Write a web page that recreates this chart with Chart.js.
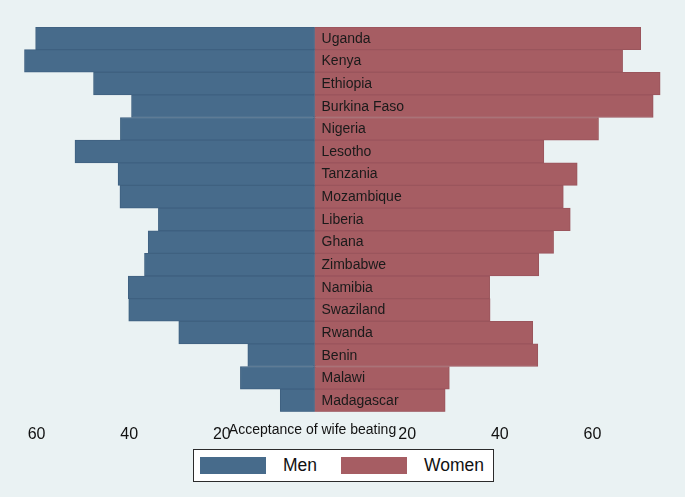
<!DOCTYPE html>
<html>
<head>
<meta charset="utf-8">
<script src="https://cdn.jsdelivr.net/npm/chart.js@4"></script>
<style>
  html, body { margin: 0; padding: 0; background: #EAF2F3; }
  #wrap { position: relative; width: 685px; height: 497px; background: #EAF2F3; }
  #c { position: absolute; left: 0; top: 0; }
  #legend { position: absolute; left: 193px; top: 449px; width: 299px; height: 31px; border: 1px solid #2b2b2b; background: #ffffff; box-sizing: content-box; font-family: "Liberation Sans", Arial, sans-serif; font-size: 17.5px; color: #111; }
  .sw { position: absolute; top: 7px; width: 66px; height: 17px; }
  .lt { position: absolute; top: 5px; line-height: 20px; }
</style>
</head>
<body>
<div id="wrap">
  <canvas id="c" width="685" height="497"></canvas>
  <div id="legend">
    <div class="sw" style="left:6px;background:#476b8b;"></div>
    <div class="lt" style="left:89px;">Men</div>
    <div class="sw" style="left:147px;background:#a65d63;"></div>
    <div class="lt" style="left:230px;">Women</div>
  </div>
</div>
<script>
const countries = ["Uganda","Kenya","Ethiopia","Burkina Faso","Nigeria","Lesotho","Tanzania","Mozambique","Liberia","Ghana","Zimbabwe","Namibia","Swaziland","Rwanda","Benin","Malawi","Madagascar"];
const menValues = [60.2,62.6,47.7,39.5,41.9,51.7,42.4,42.0,33.7,35.9,36.7,40.2,40.1,29.3,14.4,16.0,7.4];
const womenValues = [70.4,66.5,74.6,73.1,61.3,49.5,56.7,53.7,55.2,51.6,48.4,37.8,37.9,47.1,48.2,29.1,28.2];
const tickValues = [-60,-40,-20,20,40,60];
const axisTitle = "Acceptance of wife beating";
const seriesNames = ["Men","Women"];

const labelPlugin = {
  id: 'labelPlugin',
  afterDatasetsDraw(chart) {
    const ctx = chart.ctx;
    const xs = chart.scales.x, ys = chart.scales.y;
    const x0 = xs.getPixelForValue(0);
    ctx.save();
    ctx.fillStyle = '#1a1a1a';
    ctx.font = '14px "Liberation Sans", Arial, sans-serif';
    ctx.textAlign = 'left';
    ctx.textBaseline = 'middle';
    countries.forEach((c, i) => {
      ctx.fillText(c, x0 + 7, ys.getPixelForValue(i) + 0.5);
    });
    ctx.font = '14px "Liberation Sans", Arial, sans-serif';
    ctx.textAlign = 'center';
    ctx.fillStyle = '#111';
    ctx.fillText(axisTitle, 312.5, 430);
    ctx.restore();
  }
};

new Chart(document.getElementById('c'), {
  type: 'bar',
  data: {
    labels: countries,
    datasets: [
      { label: seriesNames[0], data: menValues.map(v => -v), backgroundColor: '#476b8b', borderColor: '#3f6180', borderWidth: 1, borderSkipped: false, barPercentage: 1, categoryPercentage: 1 },
      { label: seriesNames[1], data: womenValues, backgroundColor: '#a65d63', borderColor: '#9a555c', borderWidth: 1, borderSkipped: false, barPercentage: 1, categoryPercentage: 1 }
    ]
  },
  options: {
    indexAxis: 'y',
    responsive: false,
    animation: false,
    devicePixelRatio: 1,
    layout: { padding: { left: 18, right: 23, top: 27, bottom: 40 } },
    plugins: { legend: { display: false }, tooltip: { enabled: false } },
    scales: {
      x: {
        stacked: true,
        min: -64, max: 75,
        grid: { display: false, drawTicks: false },
        border: { display: false },
        afterBuildTicks(scale) { scale.ticks = tickValues.map(v => ({ value: v })); },
        ticks: {
          padding: 13,
          color: '#111',
          font: { family: '"Liberation Sans", Arial, sans-serif', size: 16 },
          callback: (v) => String(Math.abs(v))
        }
      },
      y: {
        stacked: true,
        display: false
      }
    }
  },
  plugins: [labelPlugin]
});
</script>
</body>
</html>
